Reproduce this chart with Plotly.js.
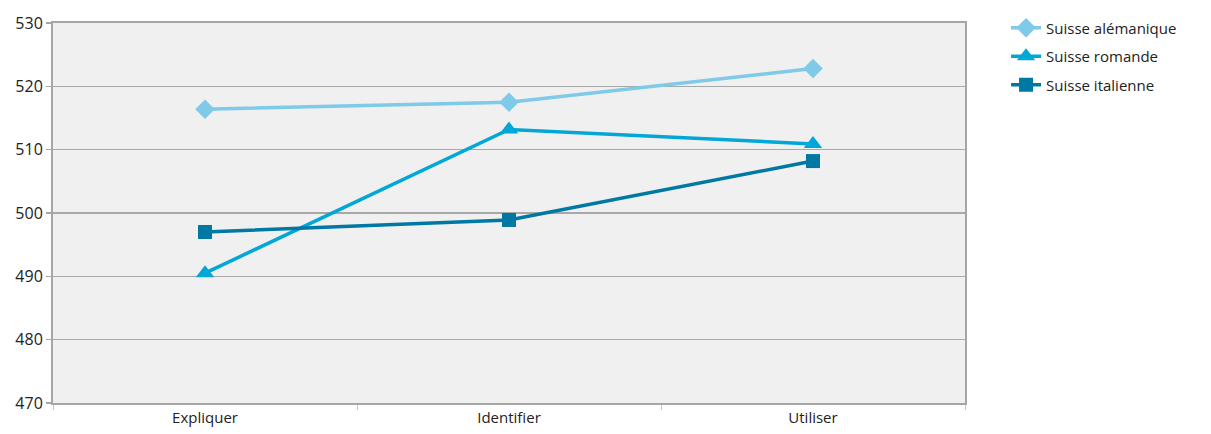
<!DOCTYPE html>
<html>
<head>
<meta charset="utf-8">
<script src="https://cdn.plot.ly/plotly-3.0.1.min.js"></script>
<style>html,body{margin:0;padding:0;background:#fff;}#chart{width:1211px;height:434px;}</style>
</head>
<body>
<div id="chart"></div>
<script>
var categories = ["Expliquer", "Identifier", "Utiliser"];
var seriesNames = ["Suisse alémanique", "Suisse romande", "Suisse italienne"];
var alemanique = [516.4, 517.5, 522.8];
var romande = [490.5, 513.2, 510.9];
var italienne = [497.0, 498.9, 508.2];
var yTicks = [470, 480, 490, 500, 510, 520, 530];

var colors = ["#7FC9E9", "#00A7D7", "#0078A4"];
var symbols = ["diamond", "triangle-up", "square"];
var sizes = [15, 16, 14];
var values = [alemanique, romande, italienne];

var traces = values.map(function (v, i) {
  return {
    x: categories, y: v, name: seriesNames[i], type: "scatter", mode: "lines+markers",
    legendgroup: "g" + i,
    line: {color: colors[i], width: 3.5},
    marker: {symbol: symbols[i], size: sizes[i], color: colors[i]}
  };
});

var layout = {
  width: 1211, height: 434,
  margin: {l: 53, r: 246, t: 21, b: 31},
  paper_bgcolor: "#ffffff", plot_bgcolor: "#F0F0F0",
  font: {family: "Open Sans, DejaVu Sans, sans-serif", size: 15, color: "#222"},
  showlegend: true,
  legend: {x: 1.045, y: 1.03, xanchor: "left", yanchor: "top", font: {size: 15}, bgcolor: "rgba(0,0,0,0)",
           traceorder: "grouped", tracegroupgap: 6},
  xaxis: {
    type: "category", range: [-0.5, 2.5], showgrid: false, zeroline: false,
    showline: true, linecolor: "#A6A6A6", linewidth: 2, mirror: true,
    ticks: "outside", tickson: "boundaries", ticklen: 5, tickcolor: "#C8C8C8", tickwidth: 1,
    tickfont: {size: 15}
  },
  yaxis: {
    range: [470, 530], tickvals: yTicks, showgrid: true, gridcolor: "#A8A8A8", gridwidth: 1.5,
    zeroline: false, showline: true, linecolor: "#A6A6A6", linewidth: 2, mirror: true,
    ticks: "outside", ticklen: 5, tickcolor: "#A6A6A6", tickwidth: 1.5,
    tickfont: {size: 16}
  }
};

Plotly.newPlot("chart", traces, layout, {displayModeBar: false, staticPlot: true});
</script>
</body>
</html>
